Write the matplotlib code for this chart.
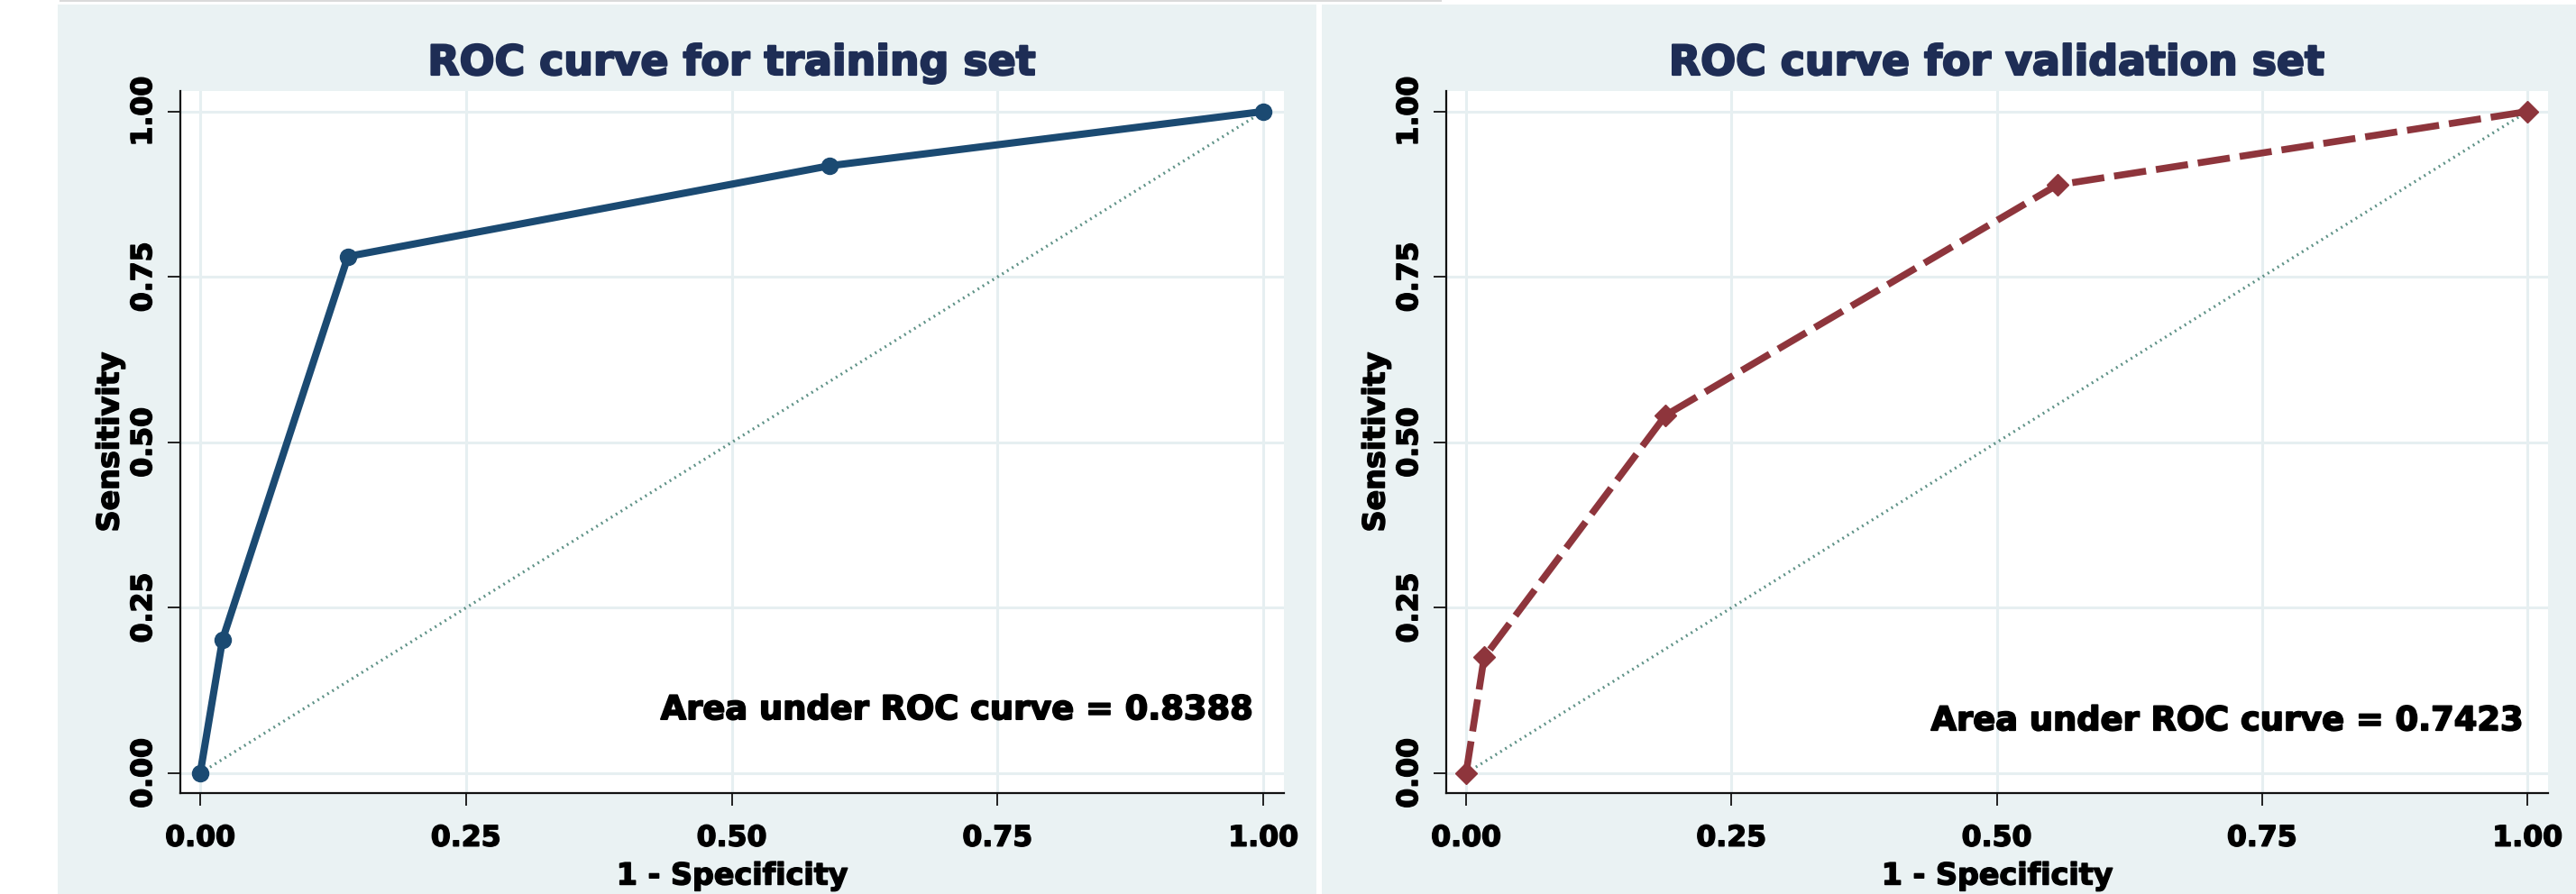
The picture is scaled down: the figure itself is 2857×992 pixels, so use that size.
import numpy as np
import matplotlib
matplotlib.use("Agg")
import matplotlib.pyplot as plt
import matplotlib.patheffects as pe
from matplotlib.patches import Rectangle
from matplotlib.lines import Line2D

# ROC points
fpr_train = [0.0, 0.021, 0.139, 0.592, 1.0]
tpr_train = [0.0, 0.202, 0.781, 0.918, 1.0]
fpr_valid = [0.0, 0.017, 0.188, 0.557, 1.0]
tpr_valid = [0.0, 0.175, 0.541, 0.889, 1.0]
auc_train = 0.8388
auc_valid = 0.7423

ticks = [0.0, 0.25, 0.50, 0.75, 1.0]
tick_labels = ["0.00", "0.25", "0.50", "0.75", "1.00"]
titles = ["ROC curve for training set", "ROC curve for validation set"]

# stata s2color-ish palette
bg = "#EAF2F3"
grid_col = "#E6EFF1"
navy = "#1B4A72"
maroon = "#8E353C"
diag_col = "#5F9287"
title_col = "#1E2D55"

plt.rcParams["font.family"] = ["DejaVu Sans"]
plt.rcParams["font.weight"] = "bold"


def heavy(color, w=1.1):
    # fake a heavier weight than DejaVu bold
    return [pe.withStroke(linewidth=w, foreground=color)]


W, H = 2857, 992
fig = plt.figure(figsize=(W / 100, H / 100), dpi=100)
fig.patch.set_facecolor("white")

# panel backgrounds
fig.add_artist(Rectangle((64 / W, 0), (1460 - 64) / W, (H - 5) / H,
                         transform=fig.transFigure, facecolor=bg, edgecolor="none", zorder=0))
fig.add_artist(Rectangle((1466 / W, 0), (W - 1466) / W, (H - 5) / H,
                         transform=fig.transFigure, facecolor=bg, edgecolor="none", zorder=0))
fig.add_artist(Line2D([67 / W, 1598 / W], [1 - 1 / H, 1 - 1 / H], transform=fig.transFigure,
                      color="#DADADA", lw=1.5))


def roc_panel(rect, fpr, tpr, auc, style, title, auc_xy):
    ax = fig.add_axes(rect)
    ax.set_facecolor("white")
    ax.set_xlim(-0.0187, 1.0195)
    ax.set_ylim(-0.030, 1.031)

    ax.set_xticks(ticks)
    ax.set_xticklabels(tick_labels)
    ax.set_yticks(ticks)
    ax.set_yticklabels(tick_labels, rotation=90, va="center")
    ax.tick_params(axis="both", length=10, width=1.4, labelsize=22.7, color="#222222")
    ax.tick_params(axis="x", pad=15)
    ax.tick_params(axis="y", pad=8)
    for lab in ax.get_xticklabels() + ax.get_yticklabels():
        lab.set_path_effects(heavy("black"))

    ax.grid(True, color=grid_col, lw=2.2, zorder=0)
    ax.set_axisbelow(True)
    for side in ["top", "right"]:
        ax.spines[side].set_visible(False)
    for side in ["left", "bottom"]:
        ax.spines[side].set_linewidth(1.6)
        ax.spines[side].set_color("#111111")

    # chance line
    ax.plot([0, 1], [0, 1], color=diag_col, lw=2.3, linestyle=(0, (0.6, 1.4)), zorder=2)
    ax.plot(fpr, tpr, zorder=3, **style)

    ax.text(auc_xy[0], auc_xy[1], "Area under ROC curve = %.4f" % auc,
            ha="right", va="baseline", fontsize=26.5, fontweight="bold", color="black",
            zorder=4, path_effects=heavy("black", 1.3))

    ax.set_xlabel("1 - Specificity", fontsize=24, fontweight="bold", labelpad=7,
                  path_effects=heavy("black"))
    ax.set_ylabel("Sensitivity", fontsize=24, fontweight="bold", labelpad=4,
                  path_effects=heavy("black"))

    x0, y0, w, h = rect
    fig.text(x0 + w / 2, 1 - 83 / H, title, ha="center", va="baseline",
             fontsize=33, fontweight="bold", color=title_col, path_effects=heavy(title_col, 1.6))
    return ax


train_style = dict(color=navy, lw=5.8, marker="o", markersize=13, solid_joinstyle="round")
valid_style = dict(color=maroon, lw=5.5, marker="D", markersize=12.5,
                   linestyle=(0, (4.7, 1.45)), dash_capstyle="butt")

roc_panel([200 / W, 112 / H, 1224 / W, 779 / H], fpr_train, tpr_train, auc_train,
          train_style, titles[0], (0.990, 0.0815))
roc_panel([1604 / W, 112 / H, 1222 / W, 779 / H], fpr_valid, tpr_valid, auc_valid,
          valid_style, titles[1], (0.996, 0.065))

fig.savefig("out.png", dpi=100, facecolor=fig.get_facecolor())
